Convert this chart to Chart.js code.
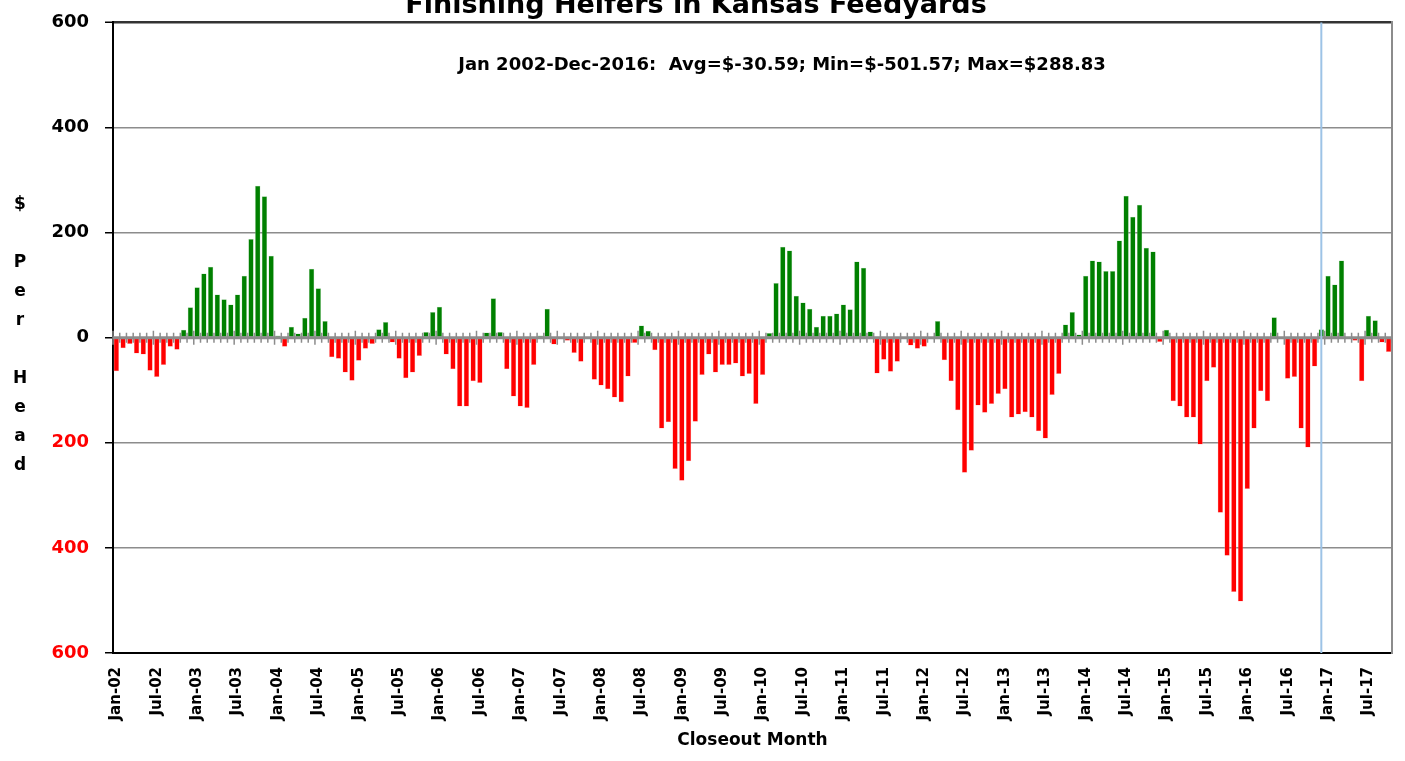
<!DOCTYPE html>
<html>
<head>
<meta charset="utf-8">
<title>Finishing Heifers in Kansas Feedyards</title>
<script src="https://cdn.jsdelivr.net/npm/chart.js@4.4.1/dist/chart.umd.min.js"></script>
<style>
  html, body { margin: 0; padding: 0; background: #fff; }
  #wrap { position: relative; width: 1405px; height: 761px; overflow: hidden; }
  #chart { position: absolute; left: 0; top: -15px; }
</style>
</head>
<body>
<div id="wrap"><canvas id="chart" width="1405" height="776"></canvas></div>
<script>
// closeout months Jan-02 .. Oct-17
const monthNames = ['Jan', 'Feb', 'Mar', 'Apr', 'May', 'Jun', 'Jul', 'Aug', 'Sep', 'Oct', 'Nov', 'Dec'];
const years = ['02', '03', '04', '05', '06', '07', '08', '09', '10', '11', '12', '13', '14', '15', '16', '17'];
const months = [];
years.forEach(yr => monthNames.forEach(m => months.push(m + '-' + yr)));
months.length = 190;

// $ per head
const profit = [
  -64, -20, -12, -30, -32, -63, -75, -52, -17, -23,
  15, 58, 96, 122, 135, 82, 73, 63, 82, 118,
  188, 289, 269, 156, 4, -17, 21, 8, 38, 131,
  94, 32, -37, -40, -66, -82, -44, -21, -12, 16,
  30, -9, -40, -77, -66, -35, 11, 49, 59, -32,
  -60, -131, -131, -83, -86, 10, 75, 11, -60, -112,
  -131, -134, -52, 4, 55, -13, -1, -6, -29, -46,
  -1, -80, -91, -98, -114, -123, -74, -10, 23, 13,
  -24, -173, -161, -250, -272, -235, -160, -71, -32, -66,
  -52, -52, -49, -74, -69, -126, -71, 9, 104, 173,
  166, 80, 67, 55, 21, 42, 42, 46, 63, 54,
  145, 133, 12, -68, -42, -65, -46, -1, -15, -21,
  -17, -1, 32, -43, -83, -138, -257, -215, -129, -143,
  -126, -107, -98, -152, -146, -142, -152, -178, -192, -109,
  -69, 25, 49, 6, 118, 147, 145, 127, 127, 185,
  270, 230, 253, 171, 164, -8, 15, -121, -131, -152,
  -152, -203, -83, -57, -333, -415, -484, -502, -288, -173,
  -102, -121, 39, 0, -78, -75, -173, -209, -55, 16,
  118, 101, 147, -1, -6, -83, 42, 33, -9, -27
];

const summaryText = 'Jan 2002-Dec-2016:  Avg=$-30.59; Min=$-501.57; Max=$288.83';
const yTitleLines = ['$', '', 'P', 'e', 'r', '', 'H', 'e', 'a', 'd'];
const markerMonth = 'Dec-16';

const FONT = '"DejaVu Sans", Verdana, sans-serif';
Chart.defaults.font.family = FONT;
Chart.defaults.color = '#000';

const extras = {
  id: 'extras',
  afterDatasetsDraw(chart) {
    const { ctx, chartArea: a, scales: { x, y } } = chart;
    const y0 = y.getPixelForValue(0);
    const w = x.getPixelForValue(1) - x.getPixelForValue(0);
    ctx.save();

    // zero line with crossing tick marks
    ctx.strokeStyle = '#8c8c8c';
    ctx.lineWidth = 3;
    ctx.beginPath();
    ctx.moveTo(a.left, y0);
    ctx.lineTo(a.right, y0);
    ctx.stroke();
    ctx.lineWidth = 1.5;
    ctx.beginPath();
    for (let i = 0; i <= months.length; i++) {
      const px = x.getPixelForValue(i) - w / 2;
      const len = i % 6 === 0 ? 7 : 5;
      ctx.moveTo(px, y0 - len);
      ctx.lineTo(px, y0 + len);
    }
    ctx.stroke();

    // marker line at end of 2016
    const bx = x.getPixelForValue(months.indexOf(markerMonth));
    ctx.strokeStyle = '#9dc3e6';
    ctx.lineWidth = 2;
    ctx.beginPath();
    ctx.moveTo(bx, a.top);
    ctx.lineTo(bx, a.bottom);
    ctx.stroke();

    // summary line
    ctx.fillStyle = '#000';
    ctx.font = 'bold 18px ' + FONT;
    ctx.textAlign = 'center';
    ctx.textBaseline = 'middle';
    ctx.fillText(summaryText, a.left + 669, a.top + 43);

    // stacked y title
    ctx.font = 'bold 17px ' + FONT;
    yTitleLines.forEach((ch, i) => {
      ctx.fillText(ch, 20, a.top + 182 + i * 29);
    });
    ctx.restore();
  }
};

new Chart(document.getElementById('chart'), {
  type: 'bar',
  data: {
    labels: months,
    datasets: [{
      label: '$ per head',
      data: profit,
      backgroundColor: c => c.raw >= 0 ? '#008000' : '#ff0000',
      borderColor: c => c.raw >= 0 ? '#a9d6a9' : '#ffb0b0',
      borderWidth: 0.5,
      borderSkipped: false,
      barPercentage: 0.8,
      categoryPercentage: 1
    }]
  },
  options: {
    responsive: false,
    animation: false,
    devicePixelRatio: 1,
    layout: { padding: { left: 0, right: 13, top: 0, bottom: 0 } },
    plugins: {
      legend: { display: false },
      tooltip: { enabled: false },
      title: {
        display: true,
        text: 'Finishing Heifers in Kansas Feedyards',
        font: { size: 27, weight: 'bold' },
        color: '#000',
        padding: { top: 5, bottom: 0 }
      }
    },
    scales: {
      x: {
        grid: { display: true, drawOnChartArea: false, drawTicks: false },
        border: { color: '#000', width: 2 },
        ticks: {
          autoSkip: false,
          minRotation: 90,
          maxRotation: 90,
          padding: 14,
          font: { size: 15, weight: 'bold' },
          color: '#000',
          callback: (v, i) => i % 6 === 0 ? months[i] : ''
        },
        title: {
          display: true,
          text: 'Closeout Month',
          font: { size: 17, weight: 'bold' },
          color: '#000',
          padding: { top: 4, bottom: 10 }
        },
        afterFit: s => { s.height = 108; s.paddingLeft = 0; s.paddingRight = 0; }
      },
      y: {
        min: -600,
        max: 600,
        ticks: {
          stepSize: 200,
          padding: 16,
          font: { size: 18, weight: 'bold' },
          color: c => c.tick.value < 0 ? '#ff0000' : '#000',
          callback: v => Math.abs(v)
        },
        grid: {
          color: c => c.tick.value === 600 ? '#333' : '#8c8c8c',
          lineWidth: c => c.tick.value === 600 ? 2.5 : 1.5,
          tickColor: '#000',
          tickLength: 8,
          tickWidth: 1.5
        },
        border: { color: '#000', width: 2 },
        afterFit: s => { s.width = 113; }
      },
      y2: {
        position: 'right',
        min: -600,
        max: 600,
        ticks: { display: false },
        grid: { drawOnChartArea: false, drawTicks: false },
        border: { color: '#8c8c8c', width: 2 },
        afterFit: s => { s.width = 0; }
      }
    }
  },
  plugins: [extras]
});
</script>
</body>
</html>
